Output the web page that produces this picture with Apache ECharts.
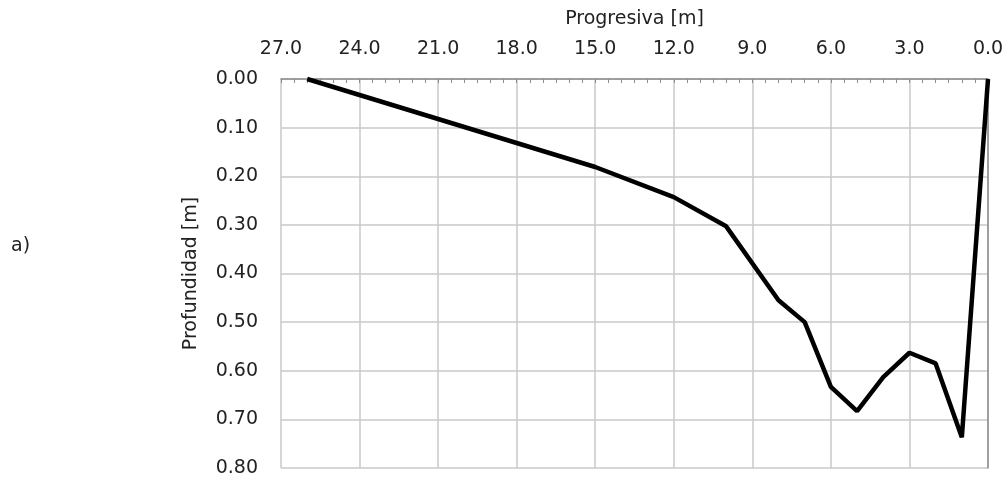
<!DOCTYPE html>
<html>
<head>
<meta charset="utf-8">
<script src="https://cdn.jsdelivr.net/npm/echarts@6/dist/echarts.min.js"></script>
<style>html,body{margin:0;padding:0;background:#fff}#c{width:1008px;height:477px}</style>
</head>
<body>
<div id="c"></div>
<script>
const progresiva = [26.0, 15.0, 12.0, 10.0, 8.0, 7.0, 6.0, 5.0, 4.0, 3.0, 2.0, 1.0, 0.0];
const profundidad = [0.00, 0.181, 0.243, 0.303, 0.455, 0.50, 0.633, 0.683, 0.613, 0.563, 0.585, 0.737, 0.00];
const xTitle = 'Progresiva [m]';
const yTitle = 'Profundidad [m]';
const panelLabel = 'a)';

const FONT = 'DejaVu Sans';
const FS = 19;
const chart = echarts.init(document.getElementById('c'), null, {renderer: 'canvas'});
chart.setOption({
  animation: false,
  textStyle: {fontFamily: FONT},
  grid: {left: 281, right: 20, top: 79, bottom: 9, containLabel: false, outerBoundsMode: 'none'},
  graphic: [{
    type: 'text', left: 11, top: 237,
    style: {text: panelLabel, font: FS + 'px ' + FONT, fill: '#222'}
  }],
  xAxis: {
    type: 'value', position: 'top', inverse: true,
    min: 0, max: 27, interval: 3,
    name: xTitle, nameLocation: 'middle', nameGap: 50,
    nameTextStyle: {fontSize: FS, color: '#222', fontFamily: FONT},
    axisLine: {show: true, lineStyle: {color: '#8c8c8c', width: 1.5}},
    axisTick: {show: true, inside: true, length: 4, lineStyle: {color: '#8c8c8c'}},
    minorTick: {show: true, splitNumber: 6, length: 4, lineStyle: {color: '#8c8c8c'}},
    axisLabel: {fontSize: FS, color: '#222', margin: 20, fontFamily: FONT,
      formatter: v => v.toFixed(1)},
    splitLine: {show: true, lineStyle: {color: '#c8c8c8', width: 1.5}}
  },
  yAxis: {
    type: 'value', inverse: true,
    min: 0, max: 0.8, interval: 0.1,
    name: yTitle, nameLocation: 'middle', nameGap: 80, nameRotate: 90,
    nameTextStyle: {fontSize: FS, color: '#222', fontFamily: FONT},
    axisLine: {show: true, lineStyle: {color: '#8c8c8c', width: 1.5}},
    axisTick: {show: false},
    axisLabel: {fontSize: FS, color: '#222', margin: 23, fontFamily: FONT,
      formatter: v => v.toFixed(2)},
    splitLine: {show: true, lineStyle: {color: '#c8c8c8', width: 1.5}}
  },
  series: [{
    type: 'line',
    data: progresiva.map((x, i) => [x, profundidad[i]]),
    showSymbol: false, symbol: 'none',
    lineStyle: {color: '#000', width: 4.5, join: 'bevel'},
    clip: false
  }]
});
</script>
</body>
</html>
